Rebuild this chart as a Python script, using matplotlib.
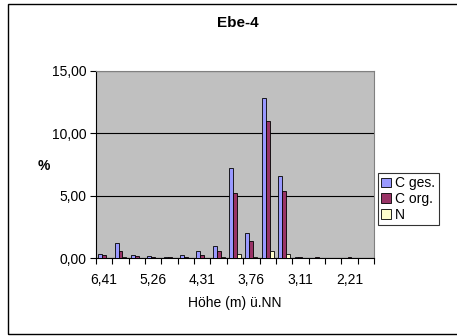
import numpy as np
import matplotlib
matplotlib.use("Agg")
from matplotlib import pyplot as plt
from matplotlib.patches import Rectangle

plt.rcParams["font.family"] = ["Liberation Sans", "DejaVu Sans"]

# Höhe (m) ü.NN, one category per sample (only every third label is shown)
hoehe = ["6,41", "6,01", "5,61", "5,26", "4,96", "4,61", "4,31", "4,11", "3,91",
         "3,76", "3,56", "3,36", "3,11", "2,81", "2,51", "2,21", "1,91"]
c_ges = [0.29, 1.20, 0.24, 0.20, 0.05, 0.24, 0.53, 0.99, 7.19, 2.03, 12.81, 6.58,
         0.08, 0.03, 0.0, 0.0, 0.0]
c_org = [0.21, 0.60, 0.13, 0.10, 0.08, 0.12, 0.24, 0.60, 5.19, 1.36, 10.96, 5.35,
         0.08, 0.05, 0.0, 0.05, 0.0]
n_val = [0.0, 0.10, 0.0, 0.0, 0.0, 0.0, 0.0, 0.12, 0.32, 0.10, 0.59, 0.32,
         0.0, 0.0, 0.0, 0.0, 0.0]
series = [("C ges.", c_ges, "#9999FF"), ("C org.", c_org, "#993366"), ("N", n_val, "#FFFFCC")]

fs = 10

fig = plt.figure(figsize=(4.57, 3.36), dpi=100)
ax = fig.add_axes([96 / 457, 1 - 258 / 336, 278 / 457, 187 / 336])
ax.set_facecolor("#C0C0C0")

x = np.arange(len(hoehe))
w = 0.24
for k, (name, vals, col) in enumerate(series):
    ax.bar(x + 0.5 + (k - 1) * w, vals, width=w, color=col, edgecolor="black",
           linewidth=0.6, label=name, zorder=3)

ax.set_xlim(0, len(hoehe))
ax.set_ylim(0, 15)
ax.set_yticks([0, 5, 10, 15])
ax.set_yticklabels(["0,00", "5,00", "10,00", "15,00"], fontsize=fs)
ax.yaxis.grid(True, color="black", linewidth=0.8, zorder=1)
ax.set_axisbelow(True)

ax.set_xticks(np.arange(len(hoehe) + 1))
ax.set_xticklabels([])
ax.set_xticks(x[::3] + 0.5, minor=True)
ax.set_xticklabels(hoehe[::3], minor=True, fontsize=fs)
ax.tick_params(axis="x", which="minor", length=0, pad=11)
ax.tick_params(axis="x", which="major", length=4, width=0.8, direction="out")
ax.tick_params(axis="y", length=4, width=0.8, direction="out", pad=3)

for s in ["top", "right"]:
    ax.spines[s].set_color("#808080")
for s in ["left", "bottom"]:
    ax.spines[s].set_color("black")

ax.set_xlabel("Höhe (m) ü.NN", fontsize=fs, labelpad=6)
fig.text(44 / 457, 1 - 166 / 336, "%", fontsize=fs, fontweight="bold", ha="center", va="center")
fig.text(238 / 457, 1 - 23 / 336, "Ebe-4", fontsize=fs + 1, fontweight="bold", ha="center", va="center")

leg = ax.legend(loc="upper left", bbox_to_anchor=(378 / 457, 1 - 173 / 336),
                bbox_transform=fig.transFigure, fontsize=fs, frameon=True, fancybox=False,
                handlelength=0.7, handleheight=0.7, handletextpad=0.3, borderpad=0.25,
                labelspacing=0.12, borderaxespad=0)
leg.get_frame().set_edgecolor("black")
leg.get_frame().set_linewidth(0.8)

fig.patches.append(Rectangle((8 / 457, 2 / 336), 2.0, 330 / 336, transform=fig.transFigure,
                             fill=False, edgecolor="black", linewidth=1))

fig.savefig("out.png", dpi=100)
